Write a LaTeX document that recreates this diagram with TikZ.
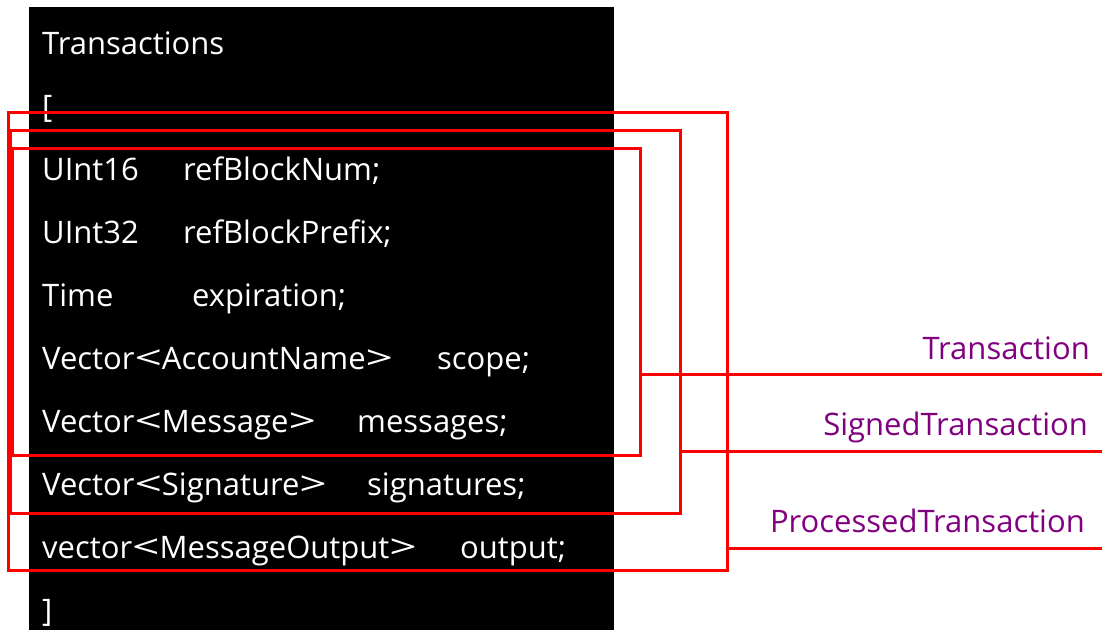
\documentclass[tikz,border=0pt]{standalone}
\usepackage{fontspec}
\setmainfont{Open Sans}
\definecolor{lblpurple}{RGB}{128,0,128}
\definecolor{boxred}{RGB}{255,0,0}
\newcommand\myob{\scalebox{1.55}[1.05]{<}}
\newcommand\mycb{\scalebox{1.55}[1.05]{>}}
\begin{document}
\begin{tikzpicture}[x=1pt,y=-1pt,
  code/.style={anchor=base west,text=white,inner sep=0pt,font=\fontsize{31}{31}\selectfont},
  lbl/.style={anchor=base east,text=lblpurple,inner sep=0pt,font=\fontsize{31}{31}\selectfont},
  redbox/.style={draw=boxred,line width=3pt},
  redline/.style={draw=boxred,line width=3pt}]
\useasboundingbox (0,0) rectangle (1102,630);
\fill[black] (29,7) rectangle (614,630);
% code lines
\node[code] (t0) at (42,54) {Transactions};
\node[code] (t1) at (42,117) {[};
\node[code] (a2) at (42,180) {UInt16};
\node[code] (b2) at (183,180) {refBlockNum;};
\node[code] (a3) at (42,243) {UInt32};
\node[code] (b3) at (183,243) {refBlockPrefix;};
\node[code] (a4) at (42,306) {Time};
\node[code] (b4) at (192,306) {expiration;};
\node[code] (a5) at (42,369) {Vector\myob AccountName\mycb};
\node[code] (b5) at (437,369) {scope;};
\node[code] (a6) at (42,432) {Vector\myob Message\mycb};
\node[code] (b6) at (357,432) {messages;};
\node[code] (a7) at (42,495) {Vector\myob Signature\mycb};
\node[code] (b7) at (367,495) {signatures;};
\node[code] (a8) at (42,558) {vector\myob MessageOutput\mycb};
\node[code] (b8) at (460,558) {output;};
\node[code] (t9) at (42,621) {]};
% red boxes
\draw[redbox] (8,112) rectangle (727,570);
\draw[redbox] (10,130) rectangle (680,513);
\draw[redbox] (12,148) rectangle (640,455);
% connector ends
\coordinate (e1) at (1102,374);
\coordinate (e2) at (1102,451);
\coordinate (e3) at (1102,548);
\coordinate (s1) at (640,374);
\coordinate (s2) at (680,451);
\coordinate (s3) at (727,548);
\draw[redline] (s1) -- (e1);
\draw[redline] (s2) -- (e2);
\draw[redline] (s3) -- (e3);
% labels
\node[lbl] (l1) at (1090,359) {Transaction};
\node[lbl] (l2) at (1088,435) {SignedTransaction};
\node[lbl] (l3) at (1085,532) {ProcessedTransaction};
\end{tikzpicture}
\end{document}
